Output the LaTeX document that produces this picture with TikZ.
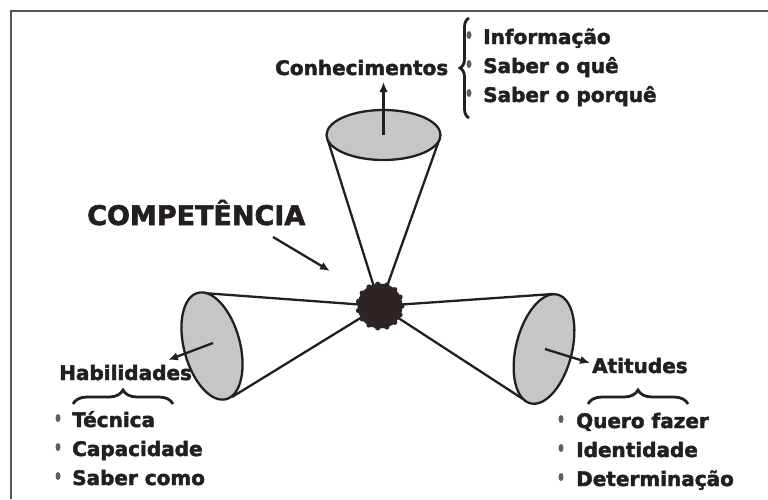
\documentclass[tikz,border=0pt]{standalone}
\usepackage{fontspec}
\setmainfont{DejaVu Sans}[BoldFont={DejaVu Sans Bold}, BoldFeatures={FakeBold=2.2}]
\usetikzlibrary{arrows.meta,decorations.pathreplacing,calc}
\definecolor{ink}{RGB}{35,31,32}
\definecolor{conefill}{RGB}{198,198,198}
\definecolor{blobcol}{RGB}{45,36,36}
\definecolor{dotgray}{RGB}{95,95,95}
\definecolor{framecol}{RGB}{85,85,85}
\tikzset{
  lbl/.style={font=\bfseries\fontsize{20}{24}\selectfont, text=ink, inner sep=0pt, anchor=base west},
  big/.style={lbl, font=\bfseries\fontsize{27}{32}\selectfont},
  cone/.style={line width=2.3pt, draw=ink},
  lid/.style={cone, fill=conefill},
  pointer/.style={line width=2.3pt, draw=ink, -{Latex[length=10pt,width=8.5pt]}},
  curly/.style={line width=2.8pt, draw=ink, decorate, decoration={brace, amplitude=#1}},
  curly/.default=9,
  dot/.style={fill=dotgray},
}
\begin{document}
\begin{tikzpicture}[x=1pt,y=-1pt]
    \useasboundingbox (0,0) rectangle (768,499);
    % frame
    \draw[line width=2.6pt, framecol] (11,499) -- (11,11) -- (768,11);

    \coordinate (hub) at (380,306);
    \coordinate (cT) at (383.5,135);
    \coordinate (cL) at (212,346);
    \coordinate (cR) at (544,349);
    % the three cones
    \draw[cone] (327.5,139) -- (hub) -- (439.5,139);
    \draw[cone] (203,293) -- (hub) -- (232,397);
    \draw[cone] (553,294) -- (hub) -- (526,401);
    \draw[lid] (cT) ellipse [x radius=57, y radius=25];
    \draw[lid, rotate around={-75:(cL)}] (cL) ellipse [x radius=55, y radius=28];
    \draw[lid, rotate around={76:(cR)}] (cR) ellipse [x radius=56, y radius=28];

    \fill[blobcol] (hub) circle [radius=22.5];
    \foreach \a in {0,24,...,336}
        \fill[blobcol] (hub) ++(\a:22) circle [radius=2.6];

    \node[lbl] (know) at (275,75) {Conhecimentos};
    \node[big] (comp) at (87,225) {COMPETÊNCIA};
    \node[lbl] (skill) at (59,380) {Habilidades};
    \node[lbl] (att) at (592,373) {Atitudes};

    \coordinate (kTip) at (383.5,82);
    \coordinate (sTip) at (168,360);
    \coordinate (aTip) at (590,363);
    \coordinate (cFrom) at (273,237);
    \coordinate (cTip) at (330,271);
    \draw[pointer] (cT) -- (kTip);
    \draw[pointer] (213,343) -- (sTip);
    \draw[pointer] (545,349) -- (aTip);
    \draw[pointer] (cFrom) -- (cTip);

    \draw[curly=9] (469,118) -- (469,18);
    \draw[curly=14] (73,404) -- (173,404);
    \draw[curly=14] (588,404) -- (688,404);

    \foreach \t [count=\i] in {Informação, Saber o quê, Saber o porquê} {
        \node[lbl] (know\i) at (483,{15+29*\i}) {\t};
        \fill[dot] (know\i.base west) ++(-14,-9) ellipse [x radius=2.5, y radius=4];
    }
    \foreach \t [count=\i] in {Técnica, Capacidade, Saber como} {
        \node[lbl] (skill\i) at (72,{398+29*\i}) {\t};
        \fill[dot] (skill\i.base west) ++(-14,-9) ellipse [x radius=2.5, y radius=4];
    }
    \foreach \t [count=\i] in {Quero fazer, Identidade, Determinação} {
        \node[lbl] (att\i) at (576,{399+29*\i}) {\t};
        \fill[dot] (att\i.base west) ++(-15,-9) ellipse [x radius=2.5, y radius=4];
    }
\end{tikzpicture}
\end{document}
